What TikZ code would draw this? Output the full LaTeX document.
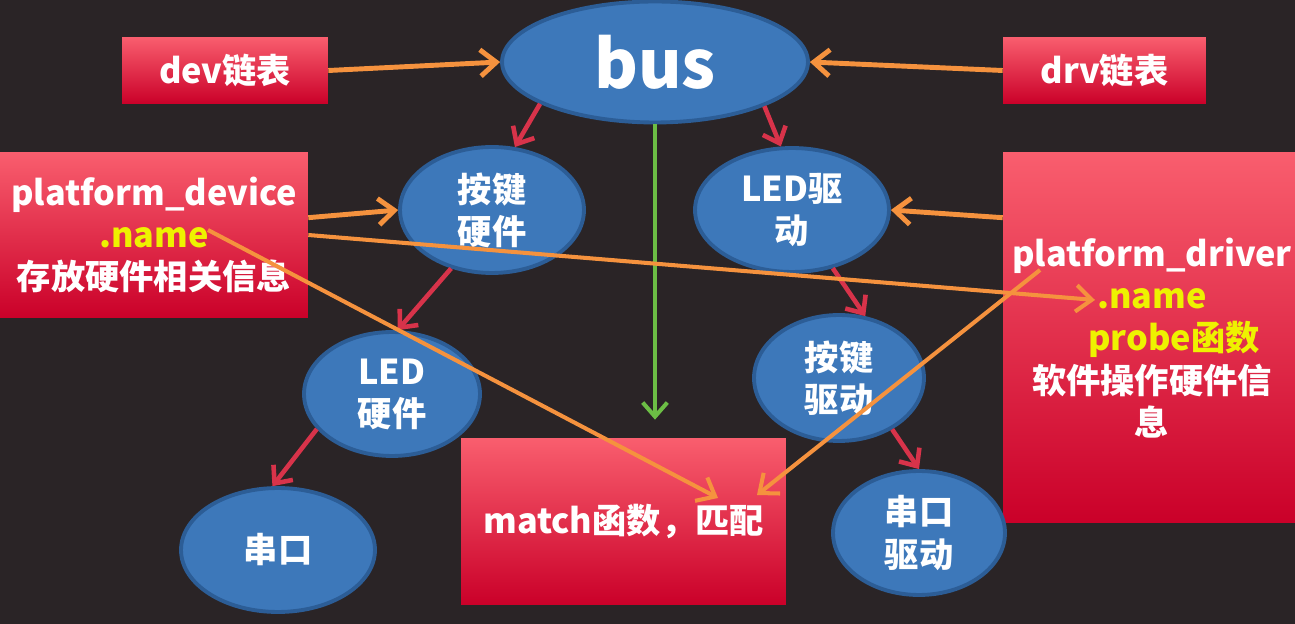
\documentclass[tikz,border=0pt]{standalone}
\usepackage{fontspec}
\setmainfont{Noto Sans CJK SC}
\usetikzlibrary{arrows.meta,shapes.geometric,calc}
\definecolor{bgdark}{HTML}{2A2426}
\definecolor{ellfill}{HTML}{3D78BA}
\definecolor{elldraw}{HTML}{2C5D96}
\definecolor{boxtop}{HTML}{F95E6E}
\definecolor{boxbot}{HTML}{CA0029}
\definecolor{arrorange}{HTML}{F5923E}
\definecolor{arrred}{HTML}{D8334A}
\definecolor{arrgreen}{HTML}{6CBE45}
\definecolor{nameyellow}{HTML}{EEF200}
\begin{document}
\begin{tikzpicture}[x=0.02cm,y=-0.02cm,
  txt/.style={text=white,font=\bfseries\fontsize{19.5}{24}\selectfont,align=center},
  ell/.style={ellipse,draw=elldraw,line width=2.2pt,fill=ellfill,inner sep=0pt,txt},
  redbox/.style={rectangle,inner sep=0pt,top color=boxtop,bottom color=boxbot,txt},
  oarrow/.style={draw=arrorange,line width=2.8pt,-{Straight Barb[length=9pt,width=15pt]}},
  olong/.style={draw=arrorange,line width=2.3pt,-{Straight Barb[length=9pt,width=15pt]}},
  rarrow/.style={draw=arrred,line width=2.6pt,-{Straight Barb[length=8pt,width=14pt]}},
  garrow/.style={draw=arrgreen,line width=2.3pt,-{Straight Barb[length=8pt,width=14pt]}}
]
\useasboundingbox (0,0) rectangle (1295,624);
\fill[bgdark] (0,0) rectangle (1295,624);

% boxes
\node[redbox,minimum width=4.12cm,minimum height=1.34cm] (dev) at (225,70.5) {dev链表};
\node[redbox,minimum width=4.06cm,minimum height=1.34cm] (drv) at (1104.5,70.5) {drv链表};
\node[redbox,minimum width=6.16cm,minimum height=3.32cm] (pdev) at (154,235)
  {platform\_device\\{\color{nameyellow}.name}\\存放硬件相关信息};
\node[redbox,minimum width=5.84cm,minimum height=7.42cm] (pdrv) at (1149,337.5) {};
\node[txt] (pdrvtext) at (1152,338)
  {platform\_driver\\{\color{nameyellow}.name}\\\hspace*{25pt}{\color{nameyellow}probe函数}\\软件操作硬件信\\息};
\node[redbox,minimum width=6.5cm,minimum height=3.34cm] (match) at (623.5,521.5) {match函数，匹配};

% ellipses
\node[ell,minimum width=6.12cm,minimum height=2.42cm,font=\bfseries\fontsize{38}{40}\selectfont] (bus) at (655,62) {bus};
\node[ell,minimum width=3.68cm,minimum height=2.52cm] (khw) at (492,210) {按键\\硬件};
\node[ell,minimum width=3.88cm,minimum height=2.48cm] (leddrv) at (792,210) {LED驱\\动};
\node[ell,minimum width=3.52cm,minimum height=2.48cm] (ledhw) at (392,394) {LED\\硬件};
\node[ell,minimum width=3.88cm,minimum height=2.48cm] (uart) at (278,550) {串口};
\node[ell,minimum width=3.4cm,minimum height=2.52cm] (kdrv) at (839,378) {按键\\驱动};
\node[ell,minimum width=3.44cm,minimum height=2.48cm] (uartdrv) at (919,533) {串口\\驱动};

% free ends
\coordinate (nameL) at (208,230);
\coordinate (nameR) at (1095,300);
\coordinate (drvstart) at (1040,270);
\coordinate (matchA) at (718,498);
\coordinate (matchB) at (757,495);

% orange connectors
\draw[oarrow] (dev.east) -- (bus.west);
\draw[oarrow] (drv.west) -- (bus.east);
\draw[oarrow] ($(pdev.north east)+(0,66)$) -- (khw.west);
\draw[oarrow] ($(pdrv.north west)+(0,66)$) -- (leddrv.east);

% red connectors
\draw[rarrow] (bus.-160) -- (khw.70);
\draw[rarrow] (bus.-22) -- (leddrv.100);
\draw[rarrow] (khw.-125) -- (ledhw.85);
\draw[rarrow] (ledhw.-155) -- (uart.95);
\draw[rarrow] (leddrv.-55) -- (kdrv.67);
\draw[rarrow] (kdrv.-44) -- (uartdrv.north);

% green connector
\draw[garrow,shorten >=0.36cm] (bus.south) -- (bus.south |- match.north);

% long orange connectors
\draw[olong] (pdev.east) -- (nameR);
\draw[olong] (nameL) -- (matchA);
\draw[olong] (drvstart) -- (matchB);
\end{tikzpicture}
\end{document}
